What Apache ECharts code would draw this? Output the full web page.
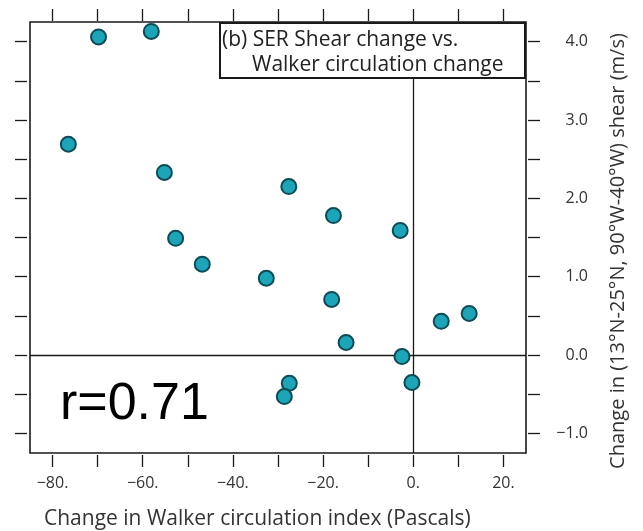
<!DOCTYPE html>
<html>
<head>
<meta charset="utf-8">
<script src="https://cdn.jsdelivr.net/npm/echarts@6/dist/echarts.min.js"></script>
<style>
  html, body { margin: 0; padding: 0; background: #fff; }
  #chart { width: 643px; height: 531px; }
</style>
</head>
<body>
<div id="chart"></div>
<script>
// Change in Walker circulation index (Pa) for each model
const walkerChange = [-69.8, -58.1, -76.5, -55.2, -27.6, -17.7, -2.9, -52.7, -46.8,
                      -32.6, -18.1, -14.9, -2.5, 6.2, 12.4, -27.5, -28.6, -0.3];
// Matching change in SER vertical wind shear (m/s)
const shearChange = [4.06, 4.13, 2.69, 2.33, 2.15, 1.78, 1.59, 1.49, 1.16,
                     0.98, 0.71, 0.16, -0.02, 0.43, 0.53, -0.36, -0.53, -0.35];

const xTicks = [-80, -70, -60, -50, -40, -30, -20, -10, 0, 10, 20];
const xLabels = [-80, -60, -40, -20, 0, 20];
const yTicks = [-1, -0.5, 0, 0.5, 1, 1.5, 2, 2.5, 3, 3.5, 4];
const yLabels = [-1, 0, 1, 2, 3, 4];

const correlationText = 'r=0.71';
const boxLine1 = '(b) SER Shear change vs.';
const boxLine2 = 'Walker circulation change';
const xTitle = 'Change in Walker circulation index (Pascals)';
const yTitle = 'Change in (13°N-25°N, 90°W-40°W) shear (m/s)';

const points = walkerChange.map((x, i) => [x, shearChange[i]]);

const FONT = '"Open Sans", "Noto Sans", sans-serif';
const INK = '#1a1a1a';
const MINUS = '\u2212';

const fmtX = v => (v < 0 ? MINUS : '') + Math.abs(v) + '.';
const fmtY = v => (v < 0 ? MINUS : '') + Math.abs(v).toFixed(1);

const tickStyle = { show: true, inside: false, length: 12, lineStyle: { color: INK, width: 1.3 } };

const xBase = {
  type: 'value', min: -85, max: 25, gridIndex: 0,
  axisLine: { show: false, onZero: false }, splitLine: { show: false }
};
const yBase = {
  type: 'value', min: -1.25, max: 4.25, gridIndex: 0,
  axisLine: { show: false, onZero: false }, splitLine: { show: false }
};

const chart = echarts.init(document.getElementById('chart'), null, { renderer: 'canvas' });

chart.setOption({
  animation: false,
  backgroundColor: '#fff',
  grid: {
    left: 30, top: 22, right: 117, bottom: 78,
    show: true, borderColor: INK, borderWidth: 1.6, backgroundColor: 'transparent'
  },
  xAxis: [
    Object.assign({}, xBase, {
      position: 'bottom', offset: 2,
      axisTick: Object.assign({}, tickStyle, { customValues: xTicks }),
      axisLabel: {
        customValues: xLabels, formatter: fmtX, margin: 20,
        fontFamily: FONT, fontSize: 16, color: '#333'
      }
    }),
    Object.assign({}, xBase, {
      position: 'top', offset: 1,
      axisTick: Object.assign({}, tickStyle, { customValues: xTicks }),
      axisLabel: { show: false }
    })
  ],
  yAxis: [
    Object.assign({}, yBase, {
      position: 'right', offset: 2,
      axisTick: Object.assign({}, tickStyle, { customValues: yTicks }),
      axisLabel: {
        customValues: yLabels, formatter: fmtY, align: 'right', margin: 60,
        fontFamily: FONT, fontSize: 16, color: '#333'
      }
    }),
    Object.assign({}, yBase, {
      position: 'left', offset: 3,
      axisTick: Object.assign({}, tickStyle, { customValues: yTicks }),
      axisLabel: { show: false }
    })
  ],
  series: [{
    type: 'scatter',
    xAxisIndex: 0, yAxisIndex: 0,
    data: points,
    symbol: 'circle',
    symbolSize: 15,
    itemStyle: { color: '#1ca5b8', borderColor: '#0d4b55', borderWidth: 2, opacity: 1 },
    z: 5,
    markLine: {
      silent: true, symbol: 'none', label: { show: false },
      lineStyle: { color: INK, width: 1.3, type: 'solid' },
      data: [{ xAxis: 0 }, { yAxis: 0 }],
      z: 2
    }
  }],
  graphic: [
    {
      type: 'rect', z: 100,
      shape: { x: 220, y: 23, width: 305, height: 55 },
      style: { fill: '#fff', stroke: INK, lineWidth: 2 }
    },
    {
      type: 'text', z: 101, x: 222, y: 40,
      style: { text: boxLine1, font: '21px ' + FONT, fill: '#222', textAlign: 'left', textVerticalAlign: 'middle' }
    },
    {
      type: 'text', z: 101, x: 252, y: 65,
      style: { text: boxLine2, font: '21px ' + FONT, fill: '#222', textAlign: 'left', textVerticalAlign: 'middle' }
    },
    {
      type: 'text', z: 101, x: 60, y: 405,
      style: { text: correlationText, font: '52px "Liberation Sans", Arial, sans-serif', fill: '#000', textAlign: 'left', textVerticalAlign: 'middle' }
    },
    {
      type: 'text', z: 101, x: 44, y: 519,
      style: { text: xTitle, font: '21px ' + FONT, fill: '#333', textAlign: 'left', textVerticalAlign: 'middle' }
    },
    {
      type: 'text', z: 101, x: 618, y: 251, rotation: Math.PI / 2,
      style: { text: yTitle, font: '20px ' + FONT, fill: '#333', textAlign: 'center', textVerticalAlign: 'middle' }
    }
  ]
});
</script>
</body>
</html>
